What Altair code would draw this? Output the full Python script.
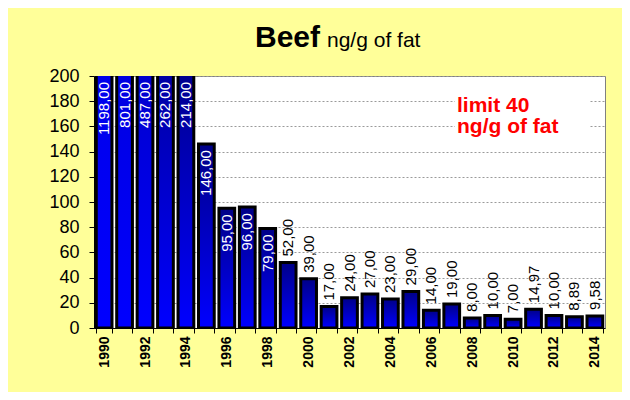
import altair as alt
import pandas as pd

# ---- data ----
years = [1990, 1991, 1992, 1993, 1994, 1995, 1996, 1997, 1998, 1999,
         2000, 2001, 2002, 2003, 2004, 2005, 2006, 2007, 2008, 2009,
         2010, 2011, 2012, 2013, 2014]
values = [1198, 801, 487, 262, 214, 146, 95, 96, 79, 52,
          39, 17, 24, 27, 23, 29, 14, 19, 8, 10,
          7, 14.97, 10, 8.89, 9.58]
value_labels = [f"{v:.2f}".replace(".", ",") for v in values]
y_ticks = [0, 20, 40, 60, 80, 100, 120, 140, 160, 180, 200]

title_main = ["Beef"]
title_unit = ["ng/g of fat"]
limit_lines = ["limit 40", "ng/g of fat"]

df = pd.DataFrame({"year": years, "value": values, "label": value_labels})

FONT = "Liberation Sans"
W, H = 511, 252

x_enc = alt.X(
    "year:O",
    scale=alt.Scale(paddingInner=0.23, paddingOuter=0.11),
    axis=alt.Axis(
        title=None, tickBand="extent", labelAngle=270,
        labelExpr="datum.value % 2 == 0 ? datum.label : ''",
        labelOverlap=False, labelFont=FONT, labelFontWeight="bold",
        labelFontSize=14, labelColor="black", labelPadding=3,
        tickColor="black", tickSize=5, domainColor="black", grid=False,
    ),
)
y_scale = alt.Scale(domain=[0, 200], nice=False, zero=True)
y_axis = alt.Axis(
    title=None, values=y_ticks, grid=True, gridDash=[2, 2],
    gridColor="#9a9a9a", labelFont=FONT, labelFontSize=18,
    labelColor="black", labelPadding=10, tickSize=5,
    tickColor="black", domainColor="black",
)

gradient = alt.LinearGradient(
    gradient="linear",
    stops=[alt.GradientStop(color="#000088", offset=0),
           alt.GradientStop(color="#0000ff", offset=1)],
    x1=0, x2=0, y1=0, y2=1,
)

base = alt.Chart(df)

bars = base.mark_bar(clip=True, fill=gradient, stroke="black",
                     strokeWidth=3).encode(
    x=x_enc, y=alt.Y("value:Q", scale=y_scale, axis=y_axis)
)

text_base = base.transform_calculate(ytext="min(datum.value, 200)")
inside = text_base.transform_filter("datum.value >= 70").mark_text(
    angle=270, align="right", baseline="middle", dx=-6,
    color="white", font=FONT, fontSize=15,
).encode(x=x_enc, y=alt.Y("ytext:Q", scale=y_scale, axis=y_axis),
         text="label:N")
outside = text_base.transform_filter("datum.value < 70").mark_text(
    angle=270, align="left", baseline="middle", dx=6,
    color="black", font=FONT, fontSize=15,
).encode(x=x_enc, y=alt.Y("ytext:Q", scale=y_scale, axis=y_axis),
         text="label:N")

# white box behind the limit note (hides gridlines like the original)
note_box = alt.Chart(pd.DataFrame({"t": limit_lines[:1]})).mark_rect(
    fill="white").encode(
    x=alt.value(361), x2=alt.value(496), y=alt.value(14), y2=alt.value(64))
note = alt.Chart(pd.DataFrame({"t": limit_lines[:1]})).mark_text(
    text=limit_lines, align="left", baseline="alphabetic", lineHeight=21,
    color="#ff0000", font=FONT, fontSize=21, fontWeight="bold",
).encode(x=alt.value(363), y=alt.value(36))

t1 = alt.Chart(pd.DataFrame({"t": title_main})).mark_text(
    align="right", baseline="alphabetic", font=FONT, fontSize=30,
    fontWeight="bold", color="black",
).encode(x=alt.value(226), y=alt.value(-29), text="t:N")
t2 = alt.Chart(pd.DataFrame({"t": title_unit})).mark_text(
    align="left", baseline="alphabetic", font=FONT, fontSize=21,
    color="black",
).encode(x=alt.value(233), y=alt.value(-29), text="t:N")

chart = alt.layer(bars, note_box, inside, outside, note, t1, t2).properties(
    width=W, height=H,
    padding={"left": 86, "top": 68, "right": 17, "bottom": 64},
    autosize=alt.AutoSizeParams(type="none"),
    background="#ffff99",
).configure_view(fill="white", stroke="#808080", strokeWidth=1)

chart.save("out.html", embed_options={"renderer": "svg", "actions": False})
